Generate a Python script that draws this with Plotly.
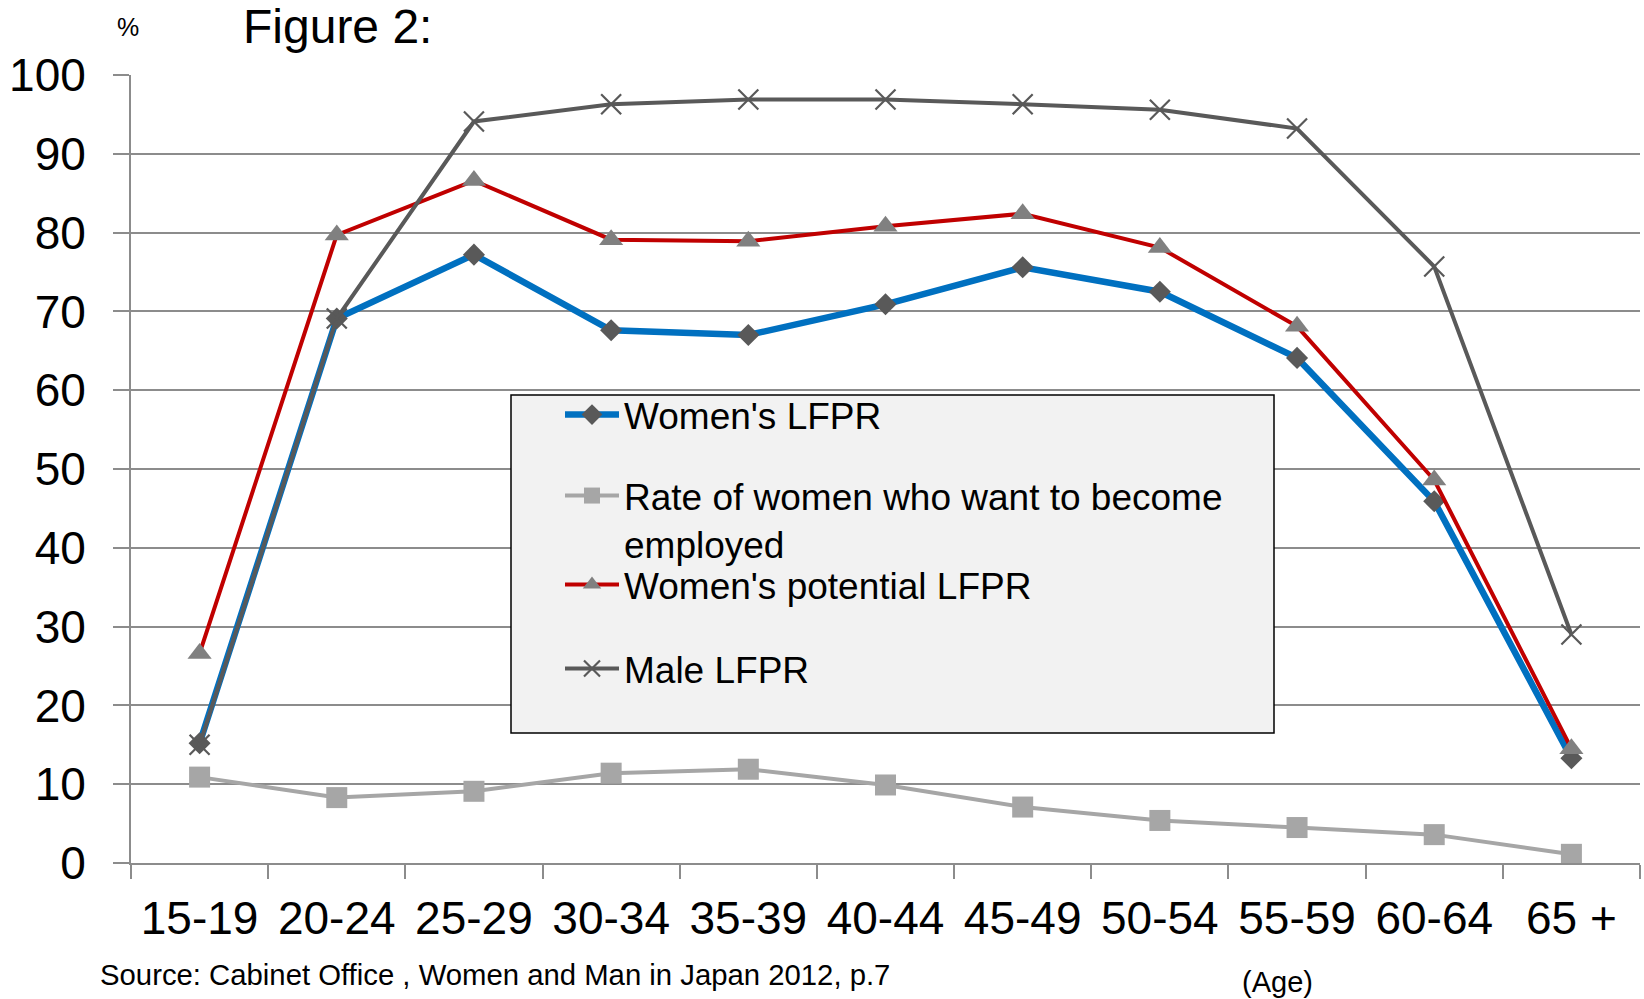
import plotly.graph_objects as go

age_groups = ["15-19", "20-24", "25-29", "30-34", "35-39", "40-44",
              "45-49", "50-54", "55-59", "60-64", "65 +"]
womens_lfpr = [15.2, 69.1, 77.2, 67.6, 67.0, 70.9, 75.6, 72.5, 64.1, 45.9, 13.3]
want_employed = [10.9, 8.3, 9.1, 11.4, 11.9, 9.9, 7.1, 5.4, 4.5, 3.6, 1.1]
potential_lfpr = [26.6, 79.7, 86.6, 79.1, 78.9, 80.8, 82.4, 78.1, 68.1, 48.6, 14.5]
male_lfpr = [15.0, 69.1, 94.1, 96.3, 96.9, 96.9, 96.3, 95.6, 93.2, 75.7, 29.0]
y_ticks = [0, 10, 20, 30, 40, 50, 60, 70, 80, 90, 100]

FONT = "Liberation Sans, Arial, sans-serif"
W, H = 1644, 999
L, R, T, B = 131, 4, 75, 136
pw, ph = W - L - R, H - T - B


def px(x):
    return (x - L) / pw


def py(y):
    return (H - B - y) / ph


fig = go.Figure()
fig.add_trace(go.Scatter(
    x=age_groups, y=womens_lfpr, name="Women's LFPR", mode="lines+markers",
    line=dict(color="#0070C0", width=6.5),
    marker=dict(symbol="diamond", size=17, color="#595959", line=dict(width=0)),
    legend="legend"))
fig.add_trace(go.Scatter(
    x=age_groups, y=want_employed,
    name="Rate of women who want to become<br>employed", mode="lines+markers",
    line=dict(color="#A6A6A6", width=4),
    marker=dict(symbol="square", size=21, color="#A6A6A6", line=dict(width=0)),
    legend="legend2"))
fig.add_trace(go.Scatter(
    x=age_groups, y=potential_lfpr, name="Women's potential LFPR", mode="lines+markers",
    line=dict(color="#C00000", width=4),
    marker=dict(symbol="triangle-up", size=21, color="#808080", line=dict(width=0)),
    legend="legend3"))
fig.add_trace(go.Scatter(
    x=age_groups, y=male_lfpr, name="Male LFPR", mode="lines+markers",
    line=dict(color="#595959", width=4),
    marker=dict(symbol="x-thin", size=20, color="#595959",
                line=dict(width=2.2, color="#595959")),
    legend="legend4"))

leg_common = dict(xanchor="left", yanchor="middle", bgcolor="rgba(0,0,0,0)",
                  borderwidth=0, itemwidth=54, valign="top",
                  font=dict(family=FONT, size=37, color="#000000"))
lx = px(560)

fig.update_layout(
    width=W, height=H,
    margin=dict(l=L, r=R, t=T, b=B, pad=0),
    paper_bgcolor="white", plot_bgcolor="white",
    font=dict(family=FONT, color="#000000"),
    showlegend=True,
    legend=dict(x=lx, y=py(415), **leg_common),
    legend2=dict(x=lx, y=py(520), **leg_common),
    legend3=dict(x=lx, y=py(585), **leg_common),
    legend4=dict(x=lx, y=py(669), **leg_common),
    xaxis=dict(type="category", categoryorder="array", categoryarray=age_groups,
               range=[-0.5, len(age_groups) - 0.5],
               showgrid=False, showline=True, linecolor="#8C8C8C", linewidth=2,
               ticks="outside", tickson="boundaries", ticklen=14, tickwidth=1.5,
               tickcolor="#8C8C8C", ticklabelstandoff=14,
               tickfont=dict(family=FONT, size=46, color="#000000"), zeroline=False),
    yaxis=dict(range=[0, 100], tickvals=y_ticks, showgrid=True, gridcolor="#8C8C8C",
               gridwidth=1.5, showline=True, linecolor="#8C8C8C", linewidth=2,
               ticks="outside", ticklen=16, tickwidth=1.5, tickcolor="#8C8C8C",
               ticklabelstandoff=18, zeroline=False,
               tickfont=dict(family=FONT, size=46, color="#000000")),
    shapes=[dict(type="rect", xref="paper", yref="paper",
                 x0=px(511), x1=px(1274), y0=py(733), y1=py(395),
                 fillcolor="#F2F2F2", line=dict(color="#000000", width=1.5),
                 layer="above")],
    annotations=[
        dict(text="Figure 2:", xref="paper", yref="paper", x=px(241), y=py(26),
             xanchor="left", yanchor="middle", showarrow=False,
             font=dict(family=FONT, size=48, color="#000000")),
        dict(text="%", xref="paper", yref="paper", x=px(115), y=py(27),
             xanchor="left", yanchor="middle", showarrow=False,
             font=dict(family=FONT, size=25, color="#000000")),
        dict(text="Source: Cabinet Office , Women and Man in Japan 2012, p.7",
             xref="paper", yref="paper", x=px(98), y=py(974),
             xanchor="left", yanchor="middle", showarrow=False,
             font=dict(family=FONT, size=29.3, color="#000000")),
        dict(text="(Age)", xref="paper", yref="paper", x=px(1240), y=py(982),
             xanchor="left", yanchor="middle", showarrow=False,
             font=dict(family=FONT, size=29, color="#000000")),
    ],
)

fig.write_html("out.html", config={"displayModeBar": False},
               post_script="document.body.style.margin='0';"
                           "document.body.style.overflow='hidden';")
